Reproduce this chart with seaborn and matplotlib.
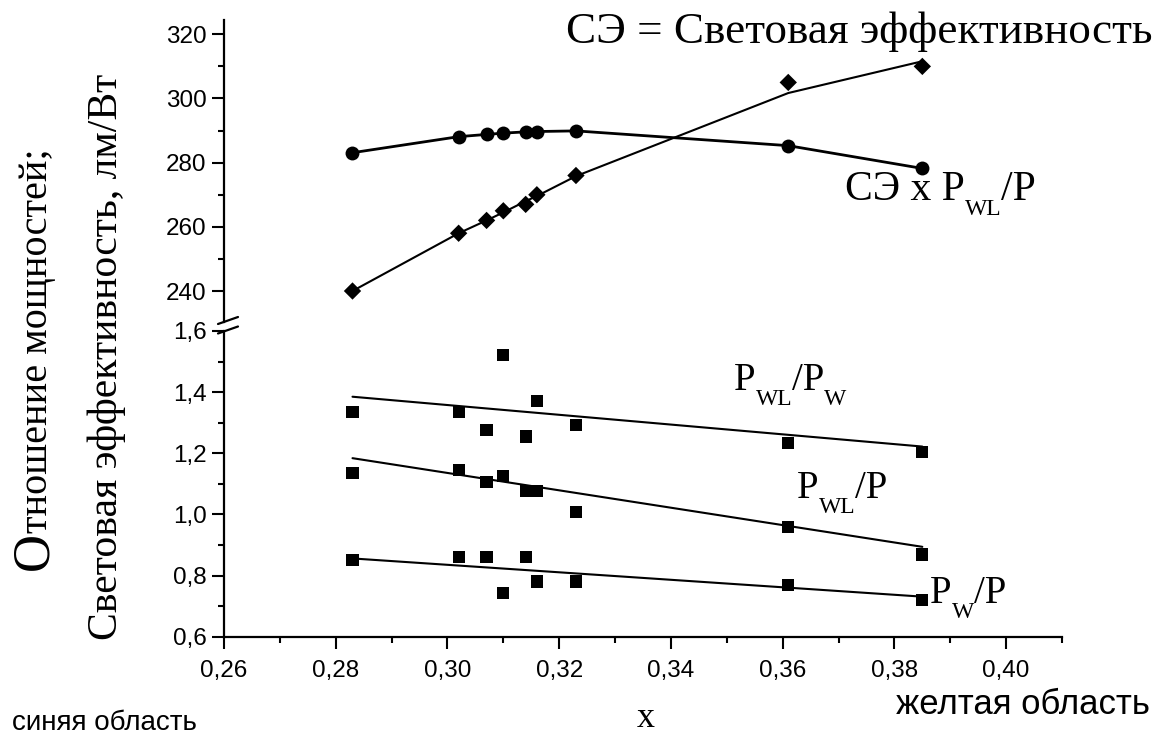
import numpy as np
import matplotlib
matplotlib.use("Agg")
import matplotlib.pyplot as plt
import seaborn as sns
from matplotlib.ticker import FuncFormatter, MultipleLocator
from matplotlib.lines import Line2D

# ---------------- data ----------------
x_vals = [0.283, 0.302, 0.307, 0.310, 0.314, 0.316, 0.323, 0.361, 0.385]
ce = [240, 258, 262, 265, 267, 270, 276, 305, 310]               # СЭ (diamonds)
ce_fit = [240, 258, 262, 264.5, 268, 269.6, 275.8, 301.7, 311.6]  # fitted curve for СЭ
ce_pwl_p = [283.1, 288.1, 288.8, 289.2, 289.6, 289.7, 289.9, 285.3, 278.2]  # СЭ x PWL/P
pwl_pw = [1.334, 1.334, 1.275, 1.522, 1.255, 1.372, 1.293, 1.234, 1.205]
pwl_p = [1.136, 1.145, 1.106, 1.126, 1.077, 1.077, 1.007, 0.958, 0.869]
pw_p = [0.852, 0.861, 0.861, 0.744, 0.861, 0.781, 0.781, 0.770, 0.721]
fit_x = [0.283, 0.385]
fit_pwl_pw = [1.385, 1.222]
fit_pwl_p = [1.184, 0.894]
fit_pw_p = [0.856, 0.731]

x_ticks = [0.26, 0.28, 0.30, 0.32, 0.34, 0.36, 0.38, 0.40]
top_ticks = [240, 260, 280, 300, 320]
bot_ticks = [0.6, 0.8, 1.0, 1.2, 1.4, 1.6]

# ---------------- style ----------------
sns.set_theme(style="ticks")
plt.rcParams["font.family"] = ["Liberation Sans", "DejaVu Sans"]
plt.rcParams["axes.edgecolor"] = "black"
plt.rcParams["xtick.color"] = "black"
plt.rcParams["ytick.color"] = "black"
plt.rcParams["text.color"] = "black"

W, H = 1159, 735
fig = plt.figure(figsize=(W / 100, H / 100), dpi=100)
fig.patch.set_facecolor("white")


def fx(px):
    return px / W


def fy(py):
    return 1 - py / H


L, R = 224, 1062
ax_top = fig.add_axes([fx(L), fy(322), (R - L) / W, (322 - 20) / H])
ax_bot = fig.add_axes([fx(L), fy(636.7), (R - L) / W, (636.7 - 331) / H])

# ---------------- upper panel ----------------
sns.lineplot(x=x_vals, y=ce_fit, ax=ax_top, color="black", lw=1.5)
sns.scatterplot(x=x_vals, y=ce, ax=ax_top, marker="D", s=78, color="black",
                edgecolor="none", linewidth=0, zorder=3)
sns.lineplot(x=x_vals, y=ce_pwl_p, ax=ax_top, color="black", lw=2.0,
             marker="o", markersize=10, markeredgewidth=0)

ax_top.set_xlim(0.26, 0.41)
ax_top.set_ylim(230.34, 324.46)
ax_top.set_yticks(top_ticks)
ax_top.yaxis.set_minor_locator(MultipleLocator(10))
ax_top.yaxis.set_major_formatter(FuncFormatter(lambda v, p: f"{v:.0f}"))
for s in ["top", "right", "bottom"]:
    ax_top.spines[s].set_visible(False)
ax_top.spines["left"].set_linewidth(1.6)
ax_top.tick_params(axis="x", which="both", bottom=False, labelbottom=False)

# ---------------- lower panel ----------------
for ys, fy_vals in [(pwl_pw, fit_pwl_pw), (pwl_p, fit_pwl_p), (pw_p, fit_pw_p)]:
    sns.lineplot(x=fit_x, y=fy_vals, ax=ax_bot, color="black", lw=1.5)
    sns.scatterplot(x=x_vals, y=ys, ax=ax_bot, marker="s", s=78, color="black",
                    edgecolor="none", linewidth=0, zorder=3)

ax_bot.set_xlim(0.26, 0.41)
ax_bot.set_ylim(0.6, 1.6)
ax_bot.set_yticks(bot_ticks)
ax_bot.set_xticks(x_ticks)
ax_bot.yaxis.set_minor_locator(MultipleLocator(0.1))
ax_bot.xaxis.set_minor_locator(MultipleLocator(0.01))
ax_bot.yaxis.set_major_formatter(FuncFormatter(lambda v, p: f"{v:.1f}".replace(".", ",")))
ax_bot.xaxis.set_major_formatter(FuncFormatter(lambda v, p: f"{v:.2f}".replace(".", ",")))
for s in ["top", "right"]:
    ax_bot.spines[s].set_visible(False)
for s in ["left", "bottom"]:
    ax_bot.spines[s].set_linewidth(1.6)

for ax in (ax_top, ax_bot):
    ax.set_facecolor("none")
    ax.tick_params(which="major", direction="out", length=8.6, width=1.5,
                   labelsize=17.5, pad=4)
    ax.tick_params(which="minor", direction="out", length=4.5, width=1.5)
    ax.set_xlabel("")
    ax.set_ylabel("")
ax_bot.tick_params(axis="x", which="major", pad=8)

# axis-break marks
for y0 in (324, 333.5):
    fig.add_artist(Line2D([fx(218), fx(238)], [fy(y0), fy(y0 - 7)],
                          color="black", lw=1.6))

# ---------------- annotations ----------------
serif = "Liberation Serif"
renderer = fig.canvas.get_renderer()


def sub_label(x, y, parts, size=28, sub_size=17, drop=15):
    """Draw text left-to-right; parts is a list of (text, is_subscript)."""
    cur = x
    for txt, is_sub in parts:
        t = fig.text(fx(cur), fy(y + (drop if is_sub else 0)), txt, family=serif,
                     fontsize=sub_size if is_sub else size, ha="left", va="baseline")
        cur += t.get_window_extent(renderer).width


fig.text(fx(1153), fy(43), "СЭ = Световая эффективность", family=serif,
         fontsize=32.5, ha="right", va="baseline")
sub_label(845, 200, [("СЭ x P", False), ("WL", True), ("/P", False)], size=30)
sub_label(734, 390, [("P", False), ("WL", True), ("/P", False), ("W", True)])
sub_label(797, 498, [("P", False), ("WL", True), ("/P", False)])
sub_label(930, 603, [("P", False), ("W", True), ("/P", False)])

# bottom captions
fig.text(fx(12), fy(730), "синяя область", fontsize=20, ha="left", va="baseline")
fig.text(fx(646), fy(727), "x", family=serif, fontsize=26, ha="center", va="baseline")
fig.text(fx(1150), fy(714), "желтая область", fontsize=25, ha="right", va="baseline")

# y-axis title (two lines, big first letter)
t_o = fig.text(fx(47), fy(570), "О", family=serif, fontsize=38, rotation=90,
               rotation_mode="anchor", ha="left", va="baseline")
bb = t_o.get_window_extent(renderer)
fig.text(fx(47), fy(570 - bb.height + 1), "тношение мощностей;", family=serif,
         fontsize=29, rotation=90, rotation_mode="anchor", ha="left", va="baseline")
fig.text(fx(117), fy(640), "Световая эффективность, лм/Вт", family=serif,
         fontsize=30, rotation=90, rotation_mode="anchor", ha="left", va="baseline")

fig.savefig("out.png", dpi=100, facecolor="white")
